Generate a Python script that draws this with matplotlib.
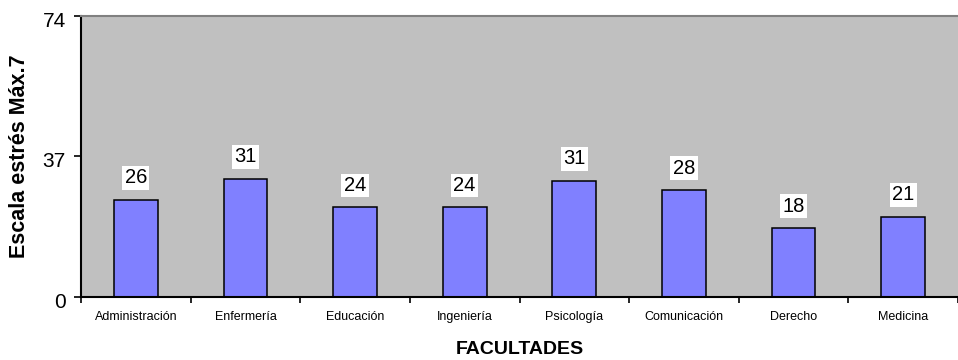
import matplotlib
matplotlib.use("Agg")
import matplotlib.pyplot as plt
import matplotlib.transforms as mtransforms
import numpy as np

categories = ["Administración", "Enfermería", "Educación", "Ingeniería",
              "Psicología", "Comunicación", "Derecho", "Medicina"]
values = [25.5, 31.0, 23.5, 23.5, 30.5, 28.0, 18.0, 21.0]
yticks = [0, 37, 74]

plt.rcParams['font.family'] = ['Liberation Sans', 'DejaVu Sans']

fig = plt.figure(figsize=(9.58, 3.6), dpi=100)
ax = fig.add_axes([81/958, (360-296.7)/360, (958-81)/958, (296.7-15.6)/360])
ax.set_facecolor('#C0C0C0')

x = np.arange(len(categories))
bars = ax.bar(x, values, width=0.4, color='#8080FF', edgecolor='black', linewidth=1.1, zorder=2)

for xi, v in zip(x, values):
    ax.annotate(f"{int(v + 0.5)}", (xi, v), xytext=(0, 9), textcoords='offset points',
                ha='center', va='bottom', fontsize=14.5,
                bbox=dict(boxstyle='square,pad=0.12', facecolor='white', edgecolor='none'))

ax.set_xlim(-0.5, len(categories) - 0.5)
ax.set_ylim(0, 74)
ax.set_yticks(yticks)
ax.set_yticklabels([str(t) for t in yticks], fontsize=15)
ax.set_xticks(x)
ax.set_xticklabels(categories, fontsize=9)
ax.tick_params(axis='x', length=0, pad=10)
ax.set_xticks(np.arange(len(categories) + 1) - 0.5, minor=True)
ax.tick_params(axis='x', which='minor', length=4, width=1.2, direction='out')
ax.tick_params(axis='y', length=5, width=1.2, direction='out', pad=6)

shift = mtransforms.ScaledTranslation(0, -3.5 / 100, fig.dpi_scale_trans)
for lbl in ax.get_yticklabels():
    lbl.set_transform(lbl.get_transform() + shift)

for s in ['left', 'bottom']:
    ax.spines[s].set_linewidth(1.5)
    ax.spines[s].set_color('black')
ax.spines['top'].set_color('#808080')
ax.spines['top'].set_linewidth(1.5)
ax.spines['right'].set_visible(False)

ax.set_ylabel("Escala estrés Máx.7", fontsize=15.5, fontweight='bold')
ax.yaxis.set_label_coords(-(81 - 20) / 877, 0.5)
ax.set_xlabel("FACULTADES", fontsize=14, fontweight='bold')
ax.xaxis.set_label_coords(0.5, -(350 - 296.7) / 281.1)
ax.xaxis.label.set_va('center')
ax.yaxis.label.set_va('center')

fig.savefig("out.png", dpi=100)
